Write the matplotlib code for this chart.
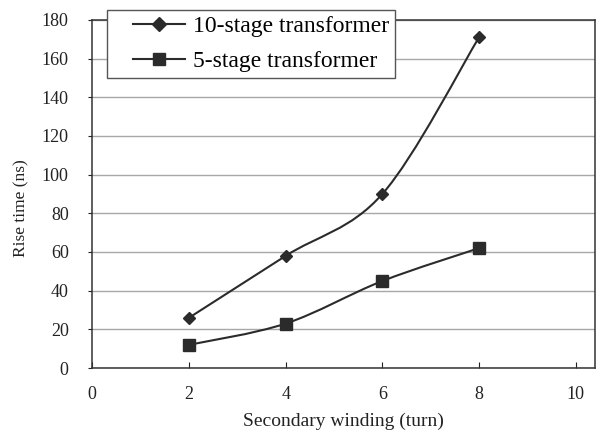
import matplotlib
matplotlib.use("Agg")
import matplotlib.pyplot as plt
from matplotlib.path import Path
from matplotlib.patches import PathPatch
from matplotlib.lines import Line2D
from matplotlib.legend_handler import HandlerLine2D
import numpy as np

plt.rcParams['font.family'] = ['Liberation Serif', 'DejaVu Serif']

turns = [2, 4, 6, 8]
rise_10stage = [26, 58, 90, 171]
rise_5stage = [12, 23, 45, 62]
x_ticks = [0, 2, 4, 6, 8, 10]
y_ticks = list(range(0, 181, 20))

line_color = '#2b2b2b'


def smooth_path(xs, ys):
    """Excel-style smoothed line as cubic bezier segments"""
    p = np.column_stack([xs, ys]).astype(float)
    ext = np.vstack([p[0], p, p[-1]])
    verts = [p[0]]
    codes = [Path.MOVETO]
    for i in range(len(p) - 1):
        p0, p1, p2, p3 = ext[i], ext[i + 1], ext[i + 2], ext[i + 3]
        verts += [p1 + (p2 - p0) / 6, p2 - (p3 - p1) / 6, p2]
        codes += [Path.CURVE4] * 3
    return Path(verts, codes)


fig = plt.figure(figsize=(6.11, 4.32), dpi=100)
ax = fig.add_axes([0.151, 0.148, 0.823, 0.806])

for ys, marker, ms in [(rise_10stage, 'D', 6), (rise_5stage, 's', 9)]:
    ax.add_patch(PathPatch(smooth_path(turns, ys), fill=False,
                           edgecolor=line_color, linewidth=1.5, zorder=3))
    ax.plot(turns, ys, linestyle='none', marker=marker, markersize=ms,
            color=line_color, zorder=4)

ax.set_xlim(0, 10.4)
ax.set_ylim(0, 180)
ax.set_xticks(x_ticks)
ax.set_yticks(y_ticks)
ax.tick_params(axis='x', direction='in', length=4, labelsize=13, pad=13, colors='#222222')
ax.tick_params(axis='y', direction='out', length=3, labelsize=13, pad=14, colors='#222222')
ax.yaxis.grid(True, color='#a8a8a8', linewidth=1.0)
ax.set_axisbelow(True)
for s in ax.spines.values():
    s.set_color('#333333')
    s.set_linewidth(1.1)

ax.set_xlabel("Secondary winding (turn)", fontsize=14, labelpad=7, color='#222222')
ax.set_ylabel("Rise time (ns)", fontsize=12.5, color='#222222')
ax.yaxis.set_label_coords(-0.125, 0.46)

handles = [
    Line2D([], [], color=line_color, linewidth=1.5, marker='D', markersize=7),
    Line2D([], [], color=line_color, linewidth=1.5, marker='s', markersize=9),
]
leg = fig.legend(handles, ["10-stage transformer", "5-stage transformer"],
                 loc='upper left', bbox_to_anchor=(0.175, 0.977), fontsize=17,
                 handler_map={Line2D: HandlerLine2D(xpad=0.85)},
                 handlelength=3.05, handletextpad=0.34, borderpad=0.25,
                 labelspacing=0.55, fancybox=False, framealpha=1,
                 edgecolor='#555555', borderaxespad=0)
leg.get_frame().set_linewidth(1.0)

fig.savefig("out.png", dpi=100)
plt.close(fig)
